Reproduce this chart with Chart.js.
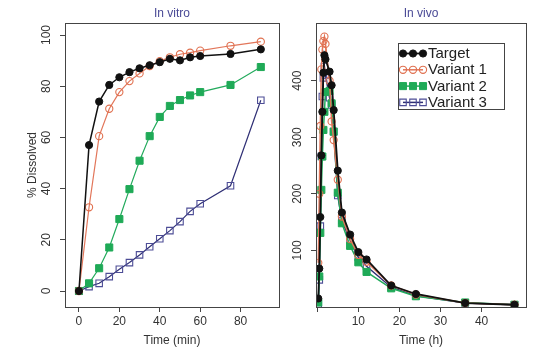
<!DOCTYPE html>
<html>
<head>
<meta charset="utf-8">
<script src="https://cdn.jsdelivr.net/npm/chart.js@4.4.0/dist/chart.umd.min.js"></script>
<style>
  body { margin: 0; background: #fff; }
  #wrap { position: relative; width: 556px; height: 353px; }
  canvas { position: absolute; top: 0; }
</style>
</head>
<body>
<div id="wrap">
  <canvas id="vitro" width="285" height="353" style="left:0;width:285px;height:353px"></canvas>
  <canvas id="vivo" width="271" height="353" style="left:285px;width:271px;height:353px"></canvas>
</div>
<script>
//Datos in vitro (min, % disuelto)
const tiempoVitro = [0, 5, 10, 15, 20, 25, 30, 35, 40, 45, 50, 55, 60, 75, 90];
const targetVitro = [0, 57, 74, 80.5, 83.5, 85.5, 87, 88.2, 89.4, 90.7, 90.1, 91.3, 91.8, 92.6, 94.4];
const variante1Vitro = [0, 32.7, 60.5, 71.2, 77.7, 82, 85, 87.9, 89.8, 91.3, 92.5, 93.1, 93.9, 95.8, 97.4];
const variante2Vitro = [0, 3, 8.9, 17, 28.1, 39.8, 50.9, 60.5, 68, 72.3, 74.6, 76.4, 77.7, 80.5, 87.5];
const variante3Vitro = [0, 1.7, 3, 5.6, 8.5, 11.1, 14.1, 17.3, 20.4, 23.6, 27.1, 31.1, 34.1, 41.1, 74.5];

//Datos in vivo (h, concentracion)
const tiempoVivo = [0.25, 0.5, 0.75, 1, 1.25, 1.5, 1.75, 2, 3, 3.5, 4, 5, 6, 8, 10, 12, 18, 24, 36, 48];
const targetVivo = [15, 68, 159, 268, 345, 414, 445, 438, 416, 392, 348, 241, 167, 128, 97, 84, 38, 23, 7, 4];
const variante1Vivo = [78, 200, 320, 420, 455, 470, 478, 465, 400, 328, 295, 225, 160, 120, 92, 80, 38, 22, 7, 4];
const variante2Vivo = [8, 54, 131, 207, 266, 313, 345, 380, 382, 360, 310, 202, 148, 108, 79, 62, 33, 19, 8, 4];
const variante3Vivo = [5, 48, 143, 266, 372, 405, 425, 410, 370, 357, 310, 197, 153, 118, 88, 72, 35, 20, 7, 4];

//Ticks
const ticksXVitro = [0, 20, 40, 60, 80];
const ticksYVitro = [0, 20, 40, 60, 80, 100];
const ticksXVivo = [0, 10, 20, 30, 40];
const ticksYVivo = [100, 200, 300, 400];

const nombres = ['Target', 'Variant 1', 'Variant 2', 'Variant 3'];

const FUENTE = '"Liberation Sans", Arial, sans-serif';
const COLOR_TITULO = '#4a4a96';
const COLOR_EJE = '#444';

function puntos(xs, ys) {
    return xs.map((x, i) => ({ x: x, y: ys[i] }));
}

function estilos(grosor) {
    return [
        { borderColor: '#111', backgroundColor: '#111', pointBackgroundColor: '#111', pointBorderColor: '#111',
          pointStyle: 'circle', pointRadius: 3.6, borderWidth: grosor + 0.3, pointBorderWidth: 1 },
        { borderColor: '#e2765a', backgroundColor: 'rgba(0,0,0,0)', pointBackgroundColor: 'rgba(0,0,0,0)', pointBorderColor: '#e0704f',
          pointStyle: 'circle', pointRadius: 3.6, borderWidth: grosor, pointBorderWidth: 1.1 },
        { borderColor: '#22aa5c', backgroundColor: '#1faa57', pointBackgroundColor: '#1faa57', pointBorderColor: '#1faa57',
          pointStyle: 'rect', pointRadius: 5, borderWidth: grosor, pointBorderWidth: 1 },
        { borderColor: '#2f2f75', backgroundColor: 'rgba(0,0,0,0)', pointBackgroundColor: 'rgba(0,0,0,0)', pointBorderColor: '#4d4d96',
          pointStyle: 'rect', pointRadius: 4.6, borderWidth: grosor, pointBorderWidth: 1.1 }
    ];
}

function crearDatasets(xs, series, grosor) {
    const est = estilos(grosor);
    return series.map((ys, i) => Object.assign({
        label: nombres[i],
        data: puntos(xs, ys),
        tension: 0,
        pointHoverRadius: 3.6,
        order: i
    }, est[i]));
}

//Plugin: marco, titulo, etiquetas Y giradas
const pluginPanel = {
    id: 'panel',
    afterDraw(chart, args, opts) {
        const { ctx, chartArea } = chart;
        ctx.save();
        ctx.strokeStyle = COLOR_EJE;
        ctx.lineWidth = 1;
        ctx.strokeRect(Math.round(chartArea.left) + 0.5, Math.round(chartArea.top) + 0.5,
            Math.round(chartArea.right - chartArea.left), Math.round(chartArea.bottom - chartArea.top));

        const cx = (chartArea.left + chartArea.right) / 2;
        ctx.fillStyle = COLOR_TITULO;
        ctx.font = '12px ' + FUENTE;
        ctx.textAlign = 'center';
        ctx.textBaseline = 'middle';
        ctx.fillText(opts.titulo, cx, 14);

        ctx.fillStyle = '#333';
        ctx.fillText(opts.tituloX, cx, 341);

        const escalaY = chart.scales.y;
        escalaY.ticks.forEach(t => {
            const y = escalaY.getPixelForValue(t.value);
            ctx.save();
            ctx.translate(chartArea.left - 18, y);
            ctx.rotate(-Math.PI / 2);
            ctx.fillText(String(t.value), 0, 0);
            ctx.restore();
        });
        if (opts.tituloY) {
            ctx.save();
            ctx.translate(33, (chartArea.top + chartArea.bottom) / 2);
            ctx.rotate(-Math.PI / 2);
            ctx.fillText(opts.tituloY, 0, 0);
            ctx.restore();
        }
        ctx.restore();
    }
};

//Plugin: leyenda dentro del panel in vivo
const pluginLeyenda = {
    id: 'leyenda',
    afterDraw(chart) {
        const { ctx, chartArea } = chart;
        const x0 = chartArea.left + 82;
        const y0 = chartArea.top + 20;
        ctx.save();
        ctx.strokeStyle = COLOR_EJE;
        ctx.lineWidth = 1;
        ctx.strokeRect(Math.round(x0) + 0.5, Math.round(y0) + 0.5, 106, 66);
        chart.data.datasets.forEach((ds, i) => {
            const y = y0 + 10.5 + i * 16.3;
            ctx.strokeStyle = ds.borderColor;
            ctx.lineWidth = ds.borderWidth;
            ctx.beginPath();
            ctx.moveTo(x0 + 5, y);
            ctx.lineTo(x0 + 25, y);
            ctx.stroke();
            [5, 15, 25].forEach(dx => {
                ctx.fillStyle = ds.pointBackgroundColor;
                ctx.strokeStyle = ds.pointBorderColor;
                ctx.lineWidth = ds.pointBorderWidth;
                Chart.helpers.drawPoint(ctx, { pointStyle: ds.pointStyle, radius: ds.pointRadius, rotation: 0, borderWidth: ds.pointBorderWidth }, x0 + dx, y);
            });
            ctx.fillStyle = '#222';
            ctx.font = '15px ' + FUENTE;
            ctx.textAlign = 'left';
            ctx.textBaseline = 'middle';
            ctx.fillText(ds.label, x0 + 30, y + 0.5);
        });
        ctx.restore();
    }
};

function opcionesEjes(cfg) {
    return {
        x: {
            type: 'linear',
            min: cfg.xMin, max: cfg.xMax,
            afterBuildTicks: s => { s.ticks = cfg.ticksX.map(v => ({ value: v })); },
            afterFit: s => { s.height = 46; },
            grid: { drawOnChartArea: false, drawTicks: true, tickLength: 5, color: COLOR_EJE },
            border: { display: true, color: COLOR_EJE },
            ticks: {
                color: '#333', padding: 2, maxRotation: 0,
                font: { family: FUENTE, size: 12 },
                callback: v => (cfg.ocultarCero && v === 0) ? '' : String(v)
            }
        },
        y: {
            type: 'linear',
            min: cfg.yMin, max: cfg.yMax,
            afterBuildTicks: s => { s.ticks = cfg.ticksY.map(v => ({ value: v })); },
            afterFit: s => { s.width = cfg.anchoY; },
            grid: { drawOnChartArea: false, drawTicks: true, tickLength: 5, color: COLOR_EJE },
            border: { display: true, color: COLOR_EJE },
            ticks: { display: false }
        }
    };
}

//Grafico in vitro
new Chart(document.querySelector('#vitro'), {
    type: 'line',
    data: { datasets: crearDatasets(tiempoVitro, [targetVitro, variante1Vitro, variante2Vitro, variante3Vitro], 1.2) },
    options: {
        responsive: false,
        animation: false,
        layout: { padding: { top: 23, right: 6, left: 0, bottom: 0 } },
        plugins: {
            legend: { display: false },
            tooltip: { enabled: false },
            panel: { titulo: 'In vitro', tituloX: 'Time (min)', tituloY: '% Dissolved' }
        },
        scales: opcionesEjes({ xMin: -6.9, xMax: 99, yMin: -6.25, yMax: 104.7,
            ticksX: ticksXVitro, ticksY: ticksYVitro, anchoY: 65, ocultarCero: false })
    },
    plugins: [pluginPanel]
});

//Grafico in vivo
new Chart(document.querySelector('#vivo'), {
    type: 'line',
    data: { datasets: crearDatasets(tiempoVivo, [targetVivo, variante1Vivo, variante2Vivo, variante3Vivo], 1.5) },
    options: {
        responsive: false,
        animation: false,
        layout: { padding: { top: 23, right: 30, left: 0, bottom: 0 } },
        plugins: {
            legend: { display: false },
            tooltip: { enabled: false },
            panel: { titulo: 'In vivo', tituloX: 'Time (h)', tituloY: '' }
        },
        scales: opcionesEjes({ xMin: -0.3, xMax: 50.8, yMin: 0, yMax: 502,
            ticksX: ticksXVivo, ticksY: ticksYVivo, anchoY: 31, ocultarCero: true })
    },
    plugins: [pluginPanel, pluginLeyenda]
});
</script>
</body>
</html>
